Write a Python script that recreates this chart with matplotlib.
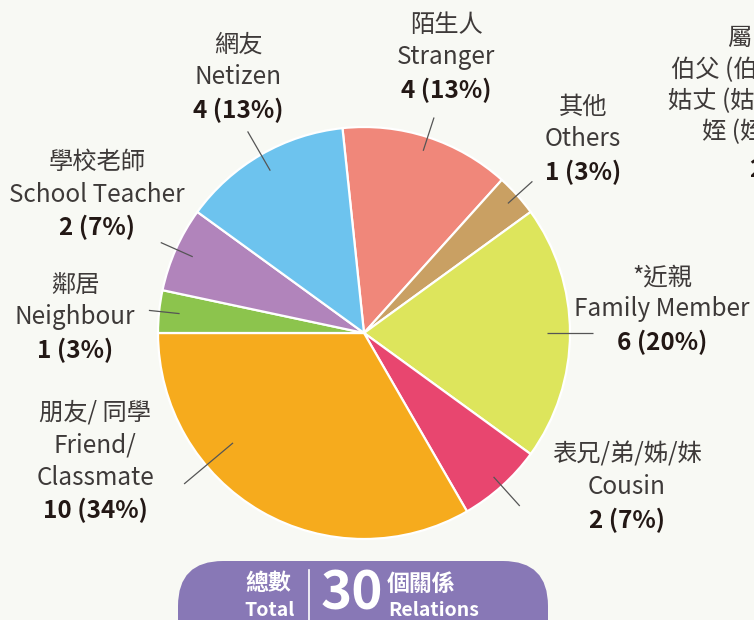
import numpy as np
import matplotlib
matplotlib.use('Agg')
import matplotlib.pyplot as plt
from matplotlib.patches import FancyBboxPatch

plt.rcParams['font.family'] = ['Noto Sans CJK TC', 'DejaVu Sans']

# ---------------------------------------------------------------------------
# Data (clockwise from 12 o'clock)
# ---------------------------------------------------------------------------
zh_names = ['陌生人', '其他', '*近親', '表兄/弟/姊/妹', '朋友/ 同學', '鄰居', '學校老師', '網友']
en_names = ['Stranger', 'Others', 'Family Member', 'Cousin', 'Friend/\nClassmate',
            'Neighbour', 'School Teacher', 'Netizen']
counts = [4, 1, 6, 2, 10, 1, 2, 4]
pct_labels = ['13%', '3%', '20%', '7%', '34%', '3%', '7%', '13%']
colors = ['#f0877a', '#c9a063', '#dde55c', '#e8466f', '#f6ab1d', '#8cc44d', '#b184bb', '#6dc3ee']
total = 30

BG = '#f8f9f4'
TXT = '#3e3a39'
NUM = '#231815'

W, H = 754, 620
CX, CY, R = 364, 333, 206
FS = 17.5


def py(y):
    # pixel row (top-down) -> data y
    return H - y


# label anchor (pixel x, pixel y of first line) per slice
label_pos = [(446, 25), (583, 107), (662, 277), (627, 455),
             (95, 413), (75, 285), (97, 162), (238, 45)]
# leader line angle override (deg), None -> slice middle
leader_ang = [None, None, None, None, -140, None, None, None]
leader_in = [0.93, 0.94, 0.89, 0.94, 0.83, 0.90, 0.91, 0.91]
leader_out = [1.10, 1.10, 1.11, 1.13, 1.14, 1.05, 1.08, 1.13]

fig = plt.figure(figsize=(W / 100, H / 100), dpi=100, facecolor=BG)
ax = fig.add_axes([0, 0, 1, 1])
ax.set_facecolor(BG)

start = 96
ax.pie(counts, colors=colors, startangle=start, counterclock=False,
       center=(CX, py(CY)), radius=R,
       wedgeprops=dict(edgecolor='white', linewidth=1.6))
ax.set_xlim(0, W)
ax.set_ylim(0, H)
ax.set_aspect('equal')
ax.axis('off')

# leader lines + labels
cum = 0
LS = 32.5
for i, c in enumerate(counts):
    mid = start - (cum + c / 2) / total * 360
    cum += c
    a = np.deg2rad(leader_ang[i] if leader_ang[i] is not None else mid)
    r0, r1 = leader_in[i] * R, leader_out[i] * R
    ax.plot([CX + r0 * np.cos(a), CX + r1 * np.cos(a)],
            [py(CY) + r0 * np.sin(a), py(CY) + r1 * np.sin(a)],
            color='#555555', lw=0.9, solid_capstyle='butt')

    lx, ly = label_pos[i]
    lines = [zh_names[i]] + en_names[i].split('\n')
    for k, s in enumerate(lines):
        ax.text(lx, py(ly + k * LS), s, ha='center', va='center',
                fontsize=FS, color=TXT, fontweight='light')
    ax.text(lx, py(ly + len(lines) * LS), f'{c} ({pct_labels[i]})',
            ha='center', va='center', fontsize=FS, color=NUM,
            fontweight='bold')

# neighbouring chart, cut off at the right edge
for s, x, y in [('屬', 727, 38), ('伯父 (伯父母)', 671, 70),
                ('姑丈 (姑母)', 668, 101), ('姪 (姪女)', 702, 131)]:
    ax.text(x, py(y), s, ha='left', va='center', fontsize=FS,
            color=TXT, fontweight='light')
ax.text(749, py(170), '2', ha='left', va='center', fontsize=FS,
        color=NUM, fontweight='bold')

# total badge
ax.add_patch(FancyBboxPatch((178, py(680)), 370, 119,
                            boxstyle='round,pad=0,rounding_size=45',
                            fc='#8878b6', ec='none', zorder=3))
ax.plot([309, 309], [py(570), py(625)], color='white', lw=1.2, zorder=4)
ax.text(268, py(584), '總數', ha='center', va='center', fontsize=16.5,
        color='white', fontweight='bold', zorder=5)
ax.text(270, py(610), 'Total', ha='center', va='center', fontsize=14,
        color='white', fontweight='bold', zorder=5)
ax.text(352, py(594), str(total), ha='center', va='center', fontsize=38,
        color='white', fontweight='bold', zorder=5)
ax.text(387, py(584), '個關係', ha='left', va='center', fontsize=16.5,
        color='white', fontweight='bold', zorder=5)
ax.text(388, py(610), 'Relations', ha='left', va='center', fontsize=14,
        color='white', fontweight='bold', zorder=5)

fig.savefig('out.png', dpi=100, facecolor=BG)
